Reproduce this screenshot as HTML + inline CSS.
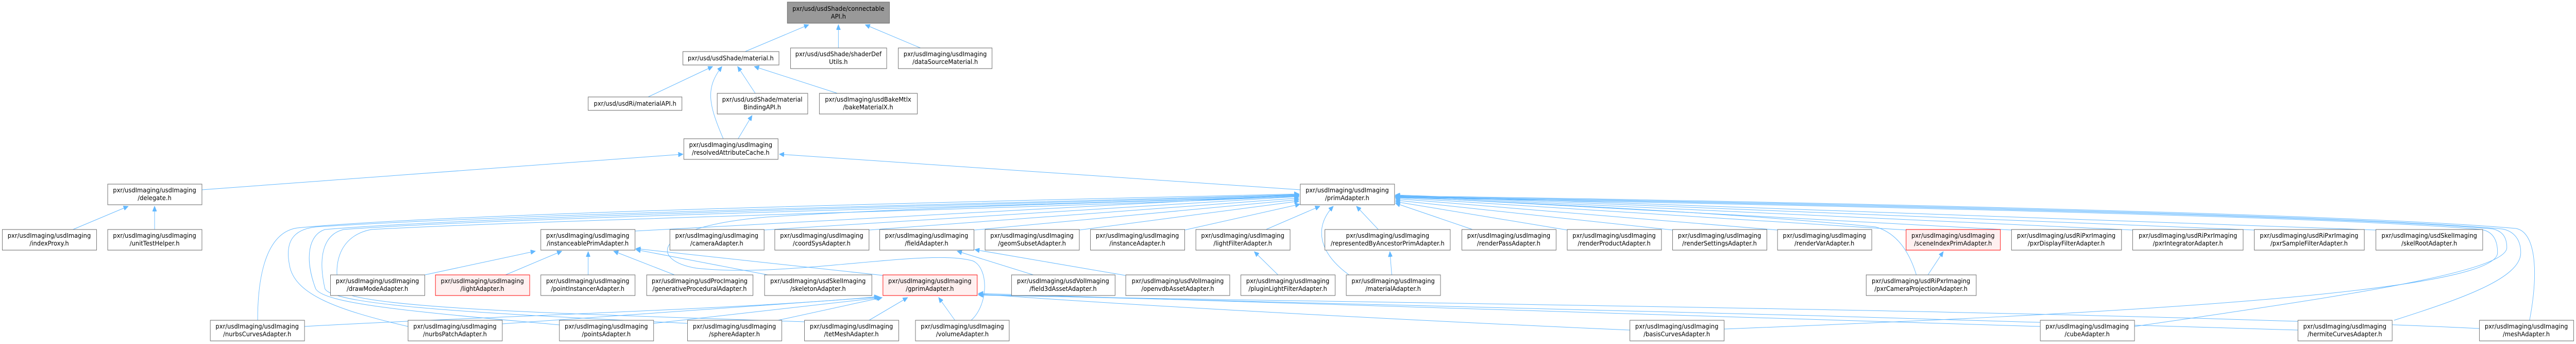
<!DOCTYPE html>
<html><head><meta charset="utf-8"><style>
html,body{margin:0;padding:0;background:#fff;width:100%;height:100%;overflow:hidden;}
svg{display:block;width:100vw;height:100vh;}
text{font-family:"DejaVu Sans","Liberation Sans",sans-serif;font-size:12.8px;fill:#000;text-anchor:middle;}
.n{fill:#fff;stroke:#666;stroke-width:1;}
.r{fill:#fff0f0;stroke:#f00;stroke-width:1;}
.g{fill:#999;stroke:#666;stroke-width:1;}
path.e{fill:none;stroke:#63b8ff;stroke-width:1;marker-end:url(#a);}
</style></head><body>
<svg viewBox="0 0 5549 667" preserveAspectRatio="none" xmlns="http://www.w3.org/2000/svg">
<defs><marker id="a" markerUnits="userSpaceOnUse" markerWidth="11" markerHeight="9" refX="10" refY="4.5" orient="auto"><path d="M0,0 L10,4.5 L0,9 z" fill="#63b8ff" stroke="#63b8ff"/></marker></defs>
<g>
<path class="e" d="M1605,100 L1742,48"/>
<path class="e" d="M1806,93 L1806,48"/>
<path class="e" d="M1983,93 L1864,48"/>
<path class="e" d="M1396,188 L1535,129"/>
<path class="e" d="M1627,181 L1589,129"/>
<path class="e" d="M1804,181 L1625,129"/>
<path class="e" d="M1558,269 C1525,200 1520,170 1555,129"/>
<path class="e" d="M1590,269 L1620,224"/>
<path class="e" d="M435,368 L1471,299"/>
<path class="e" d="M2801,368 L1679,299"/>
<path class="e" d="M157,445 L276,400"/>
<path class="e" d="M333,445 L333,400"/>
<path class="e" d="M1368,448 L2798,378"/>
<path class="e" d="M1645,446 L2798,381"/>
<path class="e" d="M1872,446 L2798,384"/>
<path class="e" d="M2099,446 L2798,387"/>
<path class="e" d="M2325,446 L2798,390"/>
<path class="e" d="M2552,446 L2800,396"/>
<path class="e" d="M2727,445 L2843,400"/>
<path class="e" d="M2969,445 L2922,400"/>
<path class="e" d="M3172,445 L3006,394"/>
<path class="e" d="M3376,446 L3006,391"/>
<path class="e" d="M3603,446 L3006,388"/>
<path class="e" d="M3829,446 L3006,385"/>
<path class="e" d="M4106,446 L3006,383"/>
<path class="e" d="M4333,446 L3006,381"/>
<path class="e" d="M4594,446 L3006,380"/>
<path class="e" d="M4856,446 L3006,379"/>
<path class="e" d="M5118,446 L3006,378"/>
<path class="e" d="M915,533 L1153,487"/>
<path class="e" d="M1089,533 L1210,487"/>
<path class="e" d="M1267,533 L1267,488"/>
<path class="e" d="M1453,533 L1322,487"/>
<path class="e" d="M1654,533 L1370,484"/>
<path class="e" d="M1902,534 L1370,482"/>
<path class="e" d="M2753,533 L2702,488"/>
<path class="e" d="M2226,533 L2062,487"/>
<path class="e" d="M2424,534 L2100,484"/>
<path class="e" d="M2998,533 L2994,488"/>
<path class="e" d="M2906,533 C2840,490 2830,440 2872,400"/>
<path class="e" d="M4153,533 L4186,488"/>
<path class="e" d="M4128,533 C4110,480 4080,450 4040,440 C3700,410 3200,390 3006,382"/>
<path class="e" d="M656,633 C1000,615 1600,600 1893,575"/>
<path class="e" d="M1081,628 C1400,610 1700,590 1895,576"/>
<path class="e" d="M1408,627 L1898,577"/>
<path class="e" d="M1676,621 L1900,577"/>
<path class="e" d="M1872,621 L1955,577"/>
<path class="e" d="M2057,621 L2022,577"/>
<path class="e" d="M3511,640 C3000,620 2400,590 2108,570"/>
<path class="e" d="M4395,633 C3500,610 2600,580 2108,569"/>
<path class="e" d="M4950,640 C4000,610 2600,585 2108,571"/>
<path class="e" d="M5341,637 C4500,600 2700,585 2108,572"/>
<path class="e" d="M555,621 C555,520 580,450 640,442 C1000,410 2400,385 2798,376"/>
<path class="e" d="M879,633 C720,600 640,570 625,520 C612,470 630,445 680,440 C1200,410 2400,390 2798,377"/>
<path class="e" d="M1205,630 C900,605 700,590 680,560 C655,500 665,455 700,445 C1100,415 2400,392 2798,378"/>
<path class="e" d="M1481,627 C1100,610 720,595 700,560 C685,500 695,455 740,445 C1100,420 2400,395 2798,379"/>
<path class="e" d="M1733,624 C1300,610 745,600 730,560 C715,500 740,455 800,445 C1200,425 2400,400 2798,380"/>
<path class="e" d="M2092,621 C2130,590 2130,520 2096,506 C2000,480 1700,540 1500,520 C1400,505 1400,440 1650,421 C2000,400 2500,390 2798,381"/>
<path class="e" d="M5449,621 C5470,520 5460,450 5420,443 C5000,410 3500,385 3006,380"/>
<path class="e" d="M5157,621 C5300,580 5430,540 5430,490 C5430,460 5410,447 5390,444 C5000,412 3500,387 3006,381"/>
<path class="e" d="M4598,633 C5000,580 5400,530 5400,480 C5400,455 5385,447 5370,444 C5000,414 3500,389 3006,382"/>
<path class="e" d="M3714,638 C4500,610 5380,570 5380,490 C5380,460 5365,448 5345,445 C5000,416 3500,391 3006,383"/>
</g>
<g>
<rect class="g" x="1696" y="4" width="220" height="41"/><text x="1806" y="21">pxr/usd/usdShade/connectable</text><text x="1806" y="36">API.h</text>
<rect class="n" x="1471" y="100" width="207" height="26"/><text x="1574" y="117">pxr/usd/usdShade/material.h</text>
<rect class="n" x="1703" y="93" width="207" height="40"/><text x="1806" y="109">pxr/usd/usdShade/shaderDef</text><text x="1806" y="124">Utils.h</text>
<rect class="n" x="1935" y="93" width="202" height="40"/><text x="2036" y="109">pxr/usdImaging/usdImaging</text><text x="2036" y="124">/dataSourceMaterial.h</text>
<rect class="n" x="1267" y="188" width="202" height="26"/><text x="1368" y="205">pxr/usd/usdRi/materialAPI.h</text>
<rect class="n" x="1545" y="181" width="195" height="40"/><text x="1642" y="197">pxr/usd/usdShade/material</text><text x="1642" y="212">BindingAPI.h</text>
<rect class="n" x="1765" y="181" width="211" height="40"/><text x="1870" y="197">pxr/usdImaging/usdBakeMtlx</text><text x="1870" y="212">/bakeMaterialX.h</text>
<rect class="n" x="1473" y="269" width="203" height="40"/><text x="1574" y="285">pxr/usdImaging/usdImaging</text><text x="1574" y="300">/resolvedAttributeCache.h</text>
<rect class="n" x="232" y="357" width="203" height="40"/><text x="333" y="373">pxr/usdImaging/usdImaging</text><text x="333" y="388">/delegate.h</text>
<rect class="n" x="2801" y="357" width="203" height="40"/><text x="2902" y="373">pxr/usdImaging/usdImaging</text><text x="2902" y="388">/primAdapter.h</text>

<rect class="n" x="5" y="445" width="203" height="40"/><text x="106" y="461">pxr/usdImaging/usdImaging</text><text x="106" y="476">/indexProxy.h</text>
<rect class="n" x="232" y="445" width="203" height="40"/><text x="333" y="461">pxr/usdImaging/usdImaging</text><text x="333" y="476">/unitTestHelper.h</text>
<rect class="n" x="1165" y="445" width="203" height="40"/><text x="1266" y="461">pxr/usdImaging/usdImaging</text><text x="1266" y="476">/instanceablePrimAdapter.h</text>
<rect class="n" x="1443" y="445" width="203" height="40"/><text x="1544" y="461">pxr/usdImaging/usdImaging</text><text x="1544" y="476">/cameraAdapter.h</text>
<rect class="n" x="1669" y="445" width="203" height="40"/><text x="1770" y="461">pxr/usdImaging/usdImaging</text><text x="1770" y="476">/coordSysAdapter.h</text>
<rect class="n" x="1895" y="445" width="203" height="40"/><text x="1996" y="461">pxr/usdImaging/usdImaging</text><text x="1996" y="476">/fieldAdapter.h</text>
<rect class="n" x="2122" y="445" width="203" height="40"/><text x="2223" y="461">pxr/usdImaging/usdImaging</text><text x="2223" y="476">/geomSubsetAdapter.h</text>
<rect class="n" x="2349" y="445" width="203" height="40"/><text x="2450" y="461">pxr/usdImaging/usdImaging</text><text x="2450" y="476">/instanceAdapter.h</text>
<rect class="n" x="2576" y="445" width="203" height="40"/><text x="2677" y="461">pxr/usdImaging/usdImaging</text><text x="2677" y="476">/lightFilterAdapter.h</text>
<rect class="n" x="2854" y="445" width="270" height="40"/><text x="2989" y="461">pxr/usdImaging/usdImaging</text><text x="2989" y="476">/representedByAncestorPrimAdapter.h</text>
<rect class="n" x="3149" y="445" width="203" height="40"/><text x="3250" y="461">pxr/usdImaging/usdImaging</text><text x="3250" y="476">/renderPassAdapter.h</text>
<rect class="n" x="3376" y="445" width="203" height="40"/><text x="3477" y="461">pxr/usdImaging/usdImaging</text><text x="3477" y="476">/renderProductAdapter.h</text>
<rect class="n" x="3603" y="445" width="203" height="40"/><text x="3704" y="461">pxr/usdImaging/usdImaging</text><text x="3704" y="476">/renderSettingsAdapter.h</text>
<rect class="n" x="3829" y="445" width="203" height="40"/><text x="3930" y="461">pxr/usdImaging/usdImaging</text><text x="3930" y="476">/renderVarAdapter.h</text>
<rect class="r" x="4106" y="445" width="203" height="40"/><text x="4207" y="461">pxr/usdImaging/usdImaging</text><text x="4207" y="476">/sceneIndexPrimAdapter.h</text>
<rect class="n" x="4333" y="445" width="237" height="40"/><text x="4451" y="461">pxr/usdImaging/usdRiPxrImaging</text><text x="4451" y="476">/pxrDisplayFilterAdapter.h</text>
<rect class="n" x="4594" y="445" width="238" height="40"/><text x="4713" y="461">pxr/usdImaging/usdRiPxrImaging</text><text x="4713" y="476">/pxrIntegratorAdapter.h</text>
<rect class="n" x="4856" y="445" width="237" height="40"/><text x="4974" y="461">pxr/usdImaging/usdRiPxrImaging</text><text x="4974" y="476">/pxrSampleFilterAdapter.h</text>
<rect class="n" x="5118" y="445" width="230" height="40"/><text x="5233" y="461">pxr/usdImaging/usdSkelImaging</text><text x="5233" y="476">/skelRootAdapter.h</text>

<rect class="n" x="712" y="533" width="203" height="40"/><text x="813" y="549">pxr/usdImaging/usdImaging</text><text x="813" y="564">/drawModeAdapter.h</text>
<rect class="r" x="938" y="533" width="203" height="40"/><text x="1039" y="549">pxr/usdImaging/usdImaging</text><text x="1039" y="564">/lightAdapter.h</text>
<rect class="n" x="1165" y="533" width="203" height="40"/><text x="1266" y="549">pxr/usdImaging/usdImaging</text><text x="1266" y="564">/pointInstancerAdapter.h</text>
<rect class="n" x="1393" y="533" width="229" height="40"/><text x="1507" y="549">pxr/usdImaging/usdProcImaging</text><text x="1507" y="564">/generativeProceduralAdapter.h</text>
<rect class="n" x="1647" y="533" width="231" height="40"/><text x="1762" y="549">pxr/usdImaging/usdSkelImaging</text><text x="1762" y="564">/skeletonAdapter.h</text>
<rect class="r" x="1902" y="533" width="203" height="40"/><text x="2003" y="549">pxr/usdImaging/usdImaging</text><text x="2003" y="564">/gprimAdapter.h</text>
<rect class="n" x="2179" y="533" width="223" height="40"/><text x="2290" y="549">pxr/usdImaging/usdVolImaging</text><text x="2290" y="564">/field3dAssetAdapter.h</text>
<rect class="n" x="2425" y="533" width="224" height="40"/><text x="2537" y="549">pxr/usdImaging/usdVolImaging</text><text x="2537" y="564">/openvdbAssetAdapter.h</text>
<rect class="n" x="2673" y="533" width="203" height="40"/><text x="2774" y="549">pxr/usdImaging/usdImaging</text><text x="2774" y="564">/pluginLightFilterAdapter.h</text>
<rect class="n" x="2900" y="533" width="203" height="40"/><text x="3001" y="549">pxr/usdImaging/usdImaging</text><text x="3001" y="564">/materialAdapter.h</text>
<rect class="n" x="4020" y="533" width="237" height="40"/><text x="4138" y="549">pxr/usdImaging/usdRiPxrImaging</text><text x="4138" y="564">/pxrCameraProjectionAdapter.h</text>

<rect class="n" x="453" y="621" width="203" height="40"/><text x="554" y="637">pxr/usdImaging/usdImaging</text><text x="554" y="652">/nurbsCurvesAdapter.h</text>
<rect class="n" x="879" y="621" width="203" height="40"/><text x="980" y="637">pxr/usdImaging/usdImaging</text><text x="980" y="652">/nurbsPatchAdapter.h</text>
<rect class="n" x="1205" y="621" width="203" height="40"/><text x="1306" y="637">pxr/usdImaging/usdImaging</text><text x="1306" y="652">/pointsAdapter.h</text>
<rect class="n" x="1481" y="621" width="203" height="40"/><text x="1582" y="637">pxr/usdImaging/usdImaging</text><text x="1582" y="652">/sphereAdapter.h</text>
<rect class="n" x="1733" y="621" width="203" height="40"/><text x="1834" y="637">pxr/usdImaging/usdImaging</text><text x="1834" y="652">/tetMeshAdapter.h</text>
<rect class="n" x="1972" y="621" width="202" height="40"/><text x="2073" y="637">pxr/usdImaging/usdImaging</text><text x="2073" y="652">/volumeAdapter.h</text>
<rect class="n" x="3511" y="621" width="203" height="40"/><text x="3612" y="637">pxr/usdImaging/usdImaging</text><text x="3612" y="652">/basisCurvesAdapter.h</text>
<rect class="n" x="4395" y="621" width="203" height="40"/><text x="4496" y="637">pxr/usdImaging/usdImaging</text><text x="4496" y="652">/cubeAdapter.h</text>
<rect class="n" x="4950" y="621" width="203" height="40"/><text x="5051" y="637">pxr/usdImaging/usdImaging</text><text x="5051" y="652">/hermiteCurvesAdapter.h</text>
<rect class="n" x="5341" y="621" width="203" height="40"/><text x="5442" y="637">pxr/usdImaging/usdImaging</text><text x="5442" y="652">/meshAdapter.h</text>
</g>
</svg>
</body></html>
